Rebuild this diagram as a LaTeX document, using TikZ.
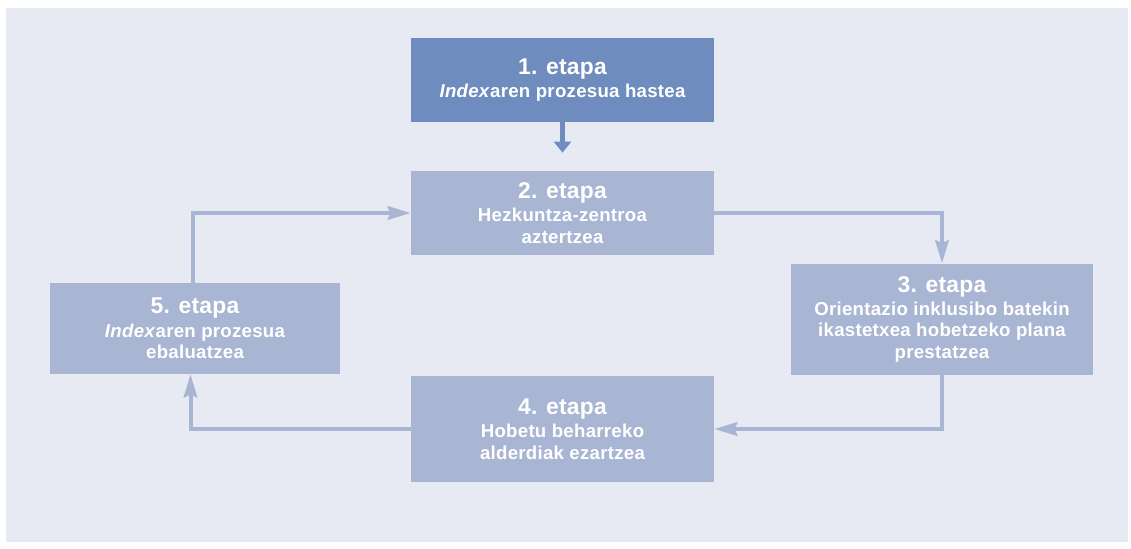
\documentclass[tikz,border=0pt]{standalone}
\usepackage{fontspec}
\setmainfont{Liberation Sans}[LetterSpace=1.5]
\usepackage{tikz}
\usetikzlibrary{arrows.meta}

\definecolor{panel}{HTML}{E7EAF2}
\definecolor{darkbox}{HTML}{6F8CBF}
\definecolor{lightbox}{HTML}{A8B5D3}
\newcommand{\etapaname}[1]{{\addfontfeatures{LetterSpace=1}\fontsize{13}{14}\selectfont #1}}

\begin{document}
\begin{tikzpicture}[
    stage/.style={fill=lightbox, text=white, align=center, inner sep=0pt,
      font=\bfseries\fontsize{10.6}{12.2}\selectfont},
    flow/.style={draw=lightbox, line width=0.08cm,
      -{Stealth[length=0.46cm, width=0.27cm, inset=0.06cm]}},
  ]
    \useasboundingbox (0,0) rectangle (22.62,-10.96);
    \fill[panel] (0.12,-0.16) rectangle (22.56,-10.84);

    \node[stage, fill=darkbox, minimum width=6.06cm, minimum height=1.68cm] (Start) at (11.25,-1.60) {\etapaname{1. etapa}\\[1pt]\textit{Index}aren prozesua hastea};
    \node[stage, minimum width=6.06cm, minimum height=1.68cm] (Analyse) at (11.25,-4.26) {\etapaname{2. etapa}\\[1pt]Hezkuntza-zentroa\\aztertzea};
    \node[stage, minimum width=6.04cm, minimum height=2.22cm] (Plan) at (18.84,-6.38) {\etapaname{3. etapa}\\[1pt]Orientazio inklusibo batekin\\ikastetxea hobetzeko plana\\prestatzea};
    \node[stage, minimum width=6.06cm, minimum height=2.12cm] (Improve) at (11.25,-8.58) {\etapaname{4. etapa}\\[1pt]Hobetu beharreko\\alderdiak ezartzea};
    \node[stage, minimum width=5.80cm, minimum height=1.82cm] (Evaluate) at (3.90,-6.57) {\etapaname{5. etapa}\\[1pt]\textit{Index}aren prozesua\\ebaluatzea};

    \draw[darkbox, line width=0.11cm, shorten >=0.36cm, -{Triangle[length=0.22cm, width=0.34cm]}] (Start) -- (Analyse);
    \draw[flow] (Analyse.east) -| (Plan.north);
    \draw[flow] (Plan.south) |- (Improve.east);
    \draw[flow] (Improve.west) -| ([xshift=-0.09cm]Evaluate.south);
    \draw[flow] ([xshift=-0.04cm]Evaluate.north) |- (Analyse.west);
  \end{tikzpicture}
\end{document}
